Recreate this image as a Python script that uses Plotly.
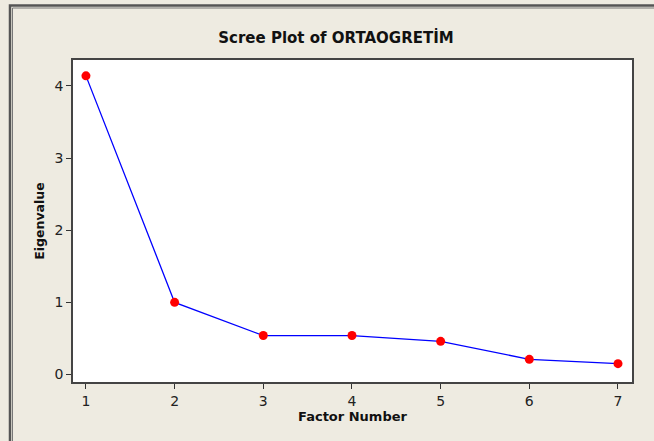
import plotly.graph_objects as go

factor_number = [1, 2, 3, 4, 5, 6, 7]
eigenvalues = [4.14, 1.00, 0.54, 0.54, 0.46, 0.21, 0.15]
y_ticks = [0, 1, 2, 3, 4]

W, H = 654, 441
L, R, T, B = 73, 632, 60, 382
pw, ph = R - L, B - T

def px(x):
    return (x - L) / pw

def py(y):
    return (B - y) / ph

bg = "#EEEBE1"
txt = "#222222"

fig = go.Figure()
fig.add_trace(go.Scatter(
    x=factor_number, y=eigenvalues, mode="lines+markers",
    line=dict(color="#0000FF", width=1.3),
    marker=dict(color="#FF0000", size=9, line=dict(width=0)),
    showlegend=False, cliponaxis=False,
))

shapes = [
    dict(type="rect", xref="paper", yref="paper",
         x0=px(10), x1=px(W + 20), y0=py(H + 20), y1=py(5.5),
         line=dict(color="#555555", width=2.5), layer="below"),
    dict(type="rect", xref="paper", yref="paper",
         x0=px(12.5), x1=px(W + 20), y0=py(H + 20), y1=py(8),
         line=dict(color="#777777", width=1), layer="below"),
]

fig.update_layout(
    width=W, height=H,
    margin=dict(l=L, r=W - R, t=T, b=H - B, pad=0),
    paper_bgcolor=bg, plot_bgcolor="white",
    shapes=shapes,
    title=dict(text="<b>Scree Plot of ORTAOGRETİM</b>", x=(215 + 457) / 2 / W, xanchor="center",
               y=1 - 38 / H, yanchor="middle",
               font=dict(family="DejaVu Sans", size=15, color="#111111")),
    xaxis=dict(range=[0.854, 7.158], tickvals=factor_number, ticks="outside", ticklen=5,
               tickcolor="#333333", tickwidth=1,
               showgrid=False, zeroline=False, showline=True, linecolor="#444444", linewidth=1.5,
               mirror=True,
               tickfont=dict(family="DejaVu Sans", size=14, color=txt),
               title=dict(text="<b>Factor Number</b>", standoff=4,
                          font=dict(family="DejaVu Sans", size=13, color="#111111"))),
    yaxis=dict(range=[-0.104, 4.36], tickvals=y_ticks, ticks="outside", ticklen=5,
               tickcolor="#333333", tickwidth=1,
               showgrid=False, zeroline=False, showline=True, linecolor="#444444", linewidth=1.5,
               mirror=True,
               tickfont=dict(family="DejaVu Sans", size=14, color=txt),
               title=dict(text="<b>Eigenvalue</b>", standoff=7,
                          font=dict(family="DejaVu Sans", size=12.5, color="#111111"))),
)

fig.write_html("out.html", config={"displayModeBar": False},
               post_script="document.body.style.margin='0';document.body.style.overflow='hidden';")
